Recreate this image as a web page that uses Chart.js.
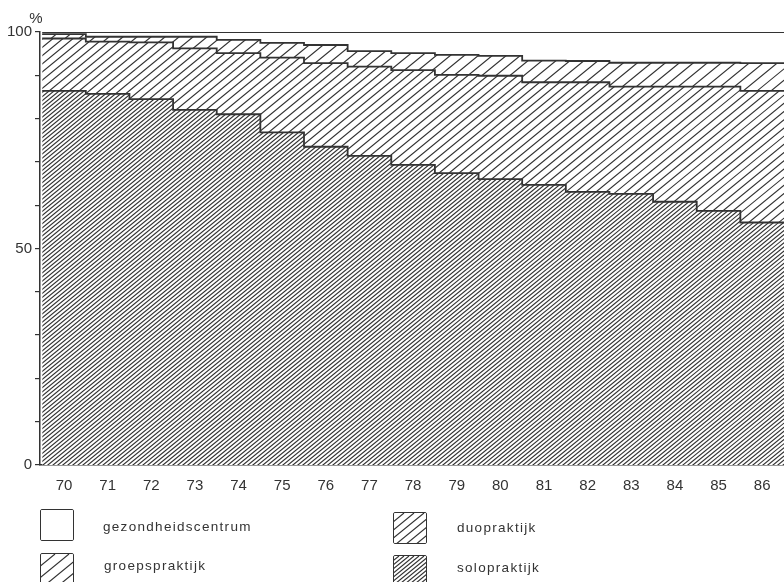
<!DOCTYPE html>
<html>
<head>
<meta charset="utf-8">
<script src="https://cdn.jsdelivr.net/npm/chart.js@4.4.0/dist/chart.umd.min.js"></script>
<style>
  html, body { margin: 0; padding: 0; background: #fff; }
  #wrap { position: relative; width: 784px; height: 582px; overflow: hidden; }
  #chart { position: absolute; left: 0; top: 0; }
  .item { position: absolute; font-family: "Liberation Sans", Arial, sans-serif; font-size: 13.5px; letter-spacing: 1.3px; color: #333; }
  .item canvas { position: absolute; border: 1.5px solid #333; border-radius: 2px; box-sizing: border-box; }
  .item span { position: absolute; white-space: nowrap; line-height: 16px; }
</style>
</head>
<body>
<div id="wrap">
  <canvas id="chart" width="784" height="582"></canvas>
  <div id="legend"></div>
</div>
<script>
// jaren 1970-1986, aandeel van de praktijkvormen in %
var years = [70, 71, 72, 73, 74, 75, 76, 77, 78, 79, 80, 81, 82, 83, 84, 85, 86];
var solo = [86.4, 85.7, 84.5, 82.0, 81.0, 76.8, 73.5, 71.4, 69.3, 67.4, 66.0, 64.7, 63.1, 62.6, 60.8, 58.7, 56.0];
var duo = [12.1, 12.1, 13.1, 14.2, 14.1, 17.3, 19.3, 20.6, 21.9, 22.7, 23.9, 23.7, 25.3, 24.8, 26.6, 28.7, 30.4];
var groep = [1.0, 1.1, 1.3, 2.7, 3.1, 3.4, 4.2, 3.6, 3.9, 4.6, 4.6, 5.0, 4.9, 5.5, 5.5, 5.5, 6.4];
var gezond = [0.5, 1.1, 1.1, 1.1, 1.8, 2.5, 3.0, 4.4, 4.9, 5.3, 5.5, 6.6, 6.7, 7.1, 7.1, 7.1, 7.2];
var yLabels = [0, 50, 100];

var font = '"Liberation Sans", Arial, sans-serif';

// arcering: schuine lijnen op een los canvas
function hatchCanvas(spacing, width) {
  var c = document.createElement('canvas');
  c.width = 784; c.height = 582;
  var g = c.getContext('2d');
  g.fillStyle = '#fff';
  g.fillRect(0, 0, c.width, c.height);
  g.strokeStyle = '#333';
  g.lineWidth = width;
  var run = c.height / 0.82;
  g.beginPath();
  for (var x = -run; x < c.width + spacing; x += spacing) {
    g.moveTo(x, c.height);
    g.lineTo(x + run, 0);
  }
  g.stroke();
  return c;
}

var hatches = {
  solo: hatchCanvas(5.0, 1.15),
  duo: hatchCanvas(10, 1.15),
  groep: hatchCanvas(14, 1.15)
};

function steps(values) {
  var pts = years.map(function(yr, i) { return {x: yr - 0.5, y: values[i]}; });
  pts.push({x: years[years.length - 1] + 0.5, y: values[values.length - 1]});
  return pts;
}

var ctx = document.getElementById('chart').getContext('2d');
function pat(name) { return name ? ctx.createPattern(hatches[name], 'repeat') : '#fff'; }

var percentLabel = {
  id: 'percentLabel',
  afterDraw: function(chart) {
    var c = chart.ctx;
    c.save();
    c.font = '15px ' + font;
    c.fillStyle = '#333';
    c.textAlign = 'center';
    c.textBaseline = 'middle';
    c.fillText('%', 36, 19);
    c.restore();
  }
};

var chart = new Chart(ctx, {
  type: 'line',
  data: {
    datasets: [
      {label: 'solopraktijk', data: steps(solo), backgroundColor: pat('solo'), fill: 'origin', hatch: 'solo'},
      {label: 'duopraktijk', data: steps(duo), backgroundColor: pat('duo'), fill: '-1', hatch: 'duo'},
      {label: 'groepspraktijk', data: steps(groep), backgroundColor: pat('groep'), fill: '-1', hatch: 'groep'},
      {label: 'gezondheidscentrum', data: steps(gezond), backgroundColor: '#fff', fill: '-1', hatch: null}
    ]
  },
  options: {
    responsive: false,
    animation: false,
    elements: {
      line: {stepped: true, borderColor: '#333', borderWidth: 1.8, tension: 0},
      point: {radius: 0}
    },
    layout: {padding: {top: 32, left: 0, right: 0, bottom: 0}},
    plugins: {legend: {display: false}, tooltip: {enabled: false}},
    scales: {
      x: {
        type: 'linear',
        min: 69.45,
        max: 86.5,
        afterBuildTicks: function(s) { s.ticks = years.map(function(v) { return {value: v}; }); },
        afterFit: function(s) { s.height = 117; },
        grid: {display: false, drawTicks: false},
        border: {color: '#333', width: 1.5},
        ticks: {padding: 12, color: '#333', font: {family: font, size: 15}}
      },
      y: {
        stacked: true,
        min: 0,
        max: 100,
        afterFit: function(s) { s.width = 40; },
        ticks: {
          stepSize: 10,
          padding: 3,
          color: '#333',
          font: {family: font, size: 15},
          callback: function(v) { return yLabels.indexOf(v) >= 0 ? v : ''; }
        },
        grid: {drawOnChartArea: false, tickLength: 5, color: '#333', lineWidth: 1.2},
        border: {color: '#333', width: 1.5}
      }
    }
  },
  plugins: [percentLabel]
});

// legenda in twee kolommen
var legendPlaces = [
  {label: 'gezondheidscentrum', box: [40, 509], text: [103, 519]},
  {label: 'groepspraktijk', box: [40, 553], text: [104, 558]},
  {label: 'duopraktijk', box: [393, 512], text: [457, 520]},
  {label: 'solopraktijk', box: [393, 555], text: [457, 560]}
];
var legend = document.getElementById('legend');
legendPlaces.forEach(function(p) {
  var ds = chart.data.datasets.filter(function(d) { return d.label === p.label; })[0];
  var item = document.createElement('div');
  item.className = 'item';
  var sw = document.createElement('canvas');
  sw.width = 32; sw.height = 30;
  sw.style.left = p.box[0] + 'px';
  sw.style.top = p.box[1] + 'px';
  var g = sw.getContext('2d');
  g.fillStyle = ds.hatch ? g.createPattern(hatches[ds.hatch], 'repeat') : '#fff';
  g.fillRect(0, 0, 32, 30);
  var t = document.createElement('span');
  t.textContent = ds.label;
  t.style.left = p.text[0] + 'px';
  t.style.top = p.text[1] + 'px';
  item.appendChild(sw);
  item.appendChild(t);
  legend.appendChild(item);
});
</script>
</body>
</html>
